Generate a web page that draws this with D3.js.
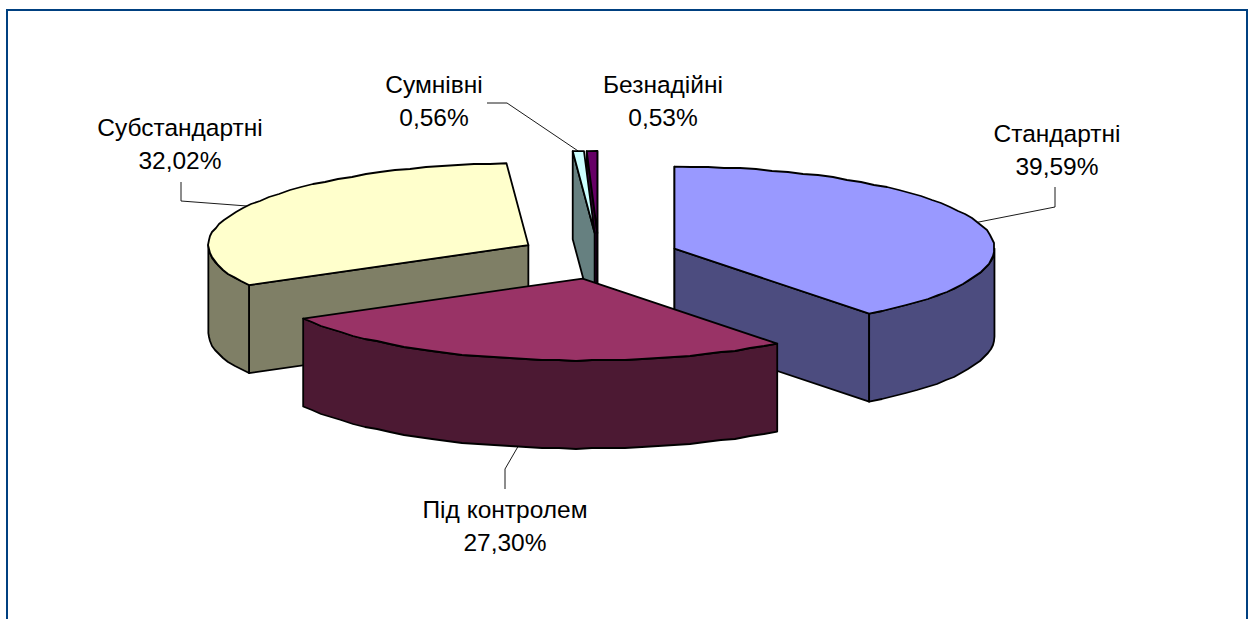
<!DOCTYPE html>
<html lang="uk">
<head>
<meta charset="utf-8">
<script src="https://cdnjs.cloudflare.com/ajax/libs/d3/7.8.5/d3.min.js"></script>
<style>
html,body{margin:0;padding:0;background:#fff;overflow:hidden}
svg{display:block}
text{font-family:"Liberation Sans",Arial,sans-serif;font-size:24.5px;fill:#000}
</style>
</head>
<body>
<svg id="chart" width="1248" height="619"></svg>
<script>
const categories = ["Стандартні", "Під контролем", "Субстандартні", "Сумнівні", "Безнадійні"];
const shares = [39.59, 27.30, 32.02, 0.56, 0.53];
const topColors = ["#9999FF", "#993366", "#FFFFCC", "#CCFFFF", "#660066"];
const sideColors = ["#4C4C7F", "#4C1933", "#7F7F66", "#668080", "#330033"];

// layout
const W = 1248, H = 619;
const cx = 598.7, cy = 256, rx = 320, ry = 82, depth = 88;
const explodeX = 80, explodeY = 23;
const paintOrder = [0, 2, 4, 3, 1];
const labelAt = [[1057, 142], [505, 518], [180, 136], [434, 93], [663, 93]];
const lineGap = 32.5;
const elbows = [
  [[1055, 207], [1055, 187]],
  [[505, 469], [505, 489]],
  [[181, 201], [181, 182]],
  [[507, 103], [487, 103]],
  []
];

const svg = d3.select("#chart");
svg.append("rect").attr("x", 7).attr("y", 10).attr("width", 1240).attr("height", H + 20)
  .attr("fill", "#fff").attr("stroke", "#004080").attr("stroke-width", 2);

const pie = d3.pie().sort(null).value(d => d)(shares);
const sx = d3.scaleLinear().domain([-1, 1]).range([-rx, rx]);
const sy = d3.scaleLinear().domain([-1, 1]).range([-ry, ry]);

const slices = pie.map((p, i) => {
  const mid = (p.startAngle + p.endAngle) / 2;
  return {
    i, a0: p.startAngle, a1: p.endAngle, mid,
    ax: cx + explodeX * Math.sin(mid),
    ay: cy - explodeY * Math.cos(mid)
  };
});

const rim = (s, a, drop = 0) => [s.ax + sx(Math.sin(a)), s.ay + sy(-Math.cos(a)) + drop];
function arcPts(s, a0, a1, drop = 0) {
  const step = Math.PI / 60;
  const n = Math.max(1, Math.ceil((a1 - a0) / step));
  return d3.range(n + 1).map(k => {
    const p = rim(s, a0 + (a1 - a0) * k / n, drop);
    return (k === 0 || k === n) ? p : [Math.round(p[0]), Math.round(p[1])];
  });
}
const line = d3.line();
const closed = pts => line(pts) + "Z";
const order = paintOrder.map(k => slices[k]);

const g = svg.selectAll("g.slice").data(order).join("g").attr("class", "slice");

g.each(function (s) {
  const el = d3.select(this);
  const side = sideColors[s.i];
  const wall = a => {
    const r = rim(s, a);
    return [[s.ax, s.ay], r, [r[0], r[1] + depth], [s.ax, s.ay + depth]];
  };
  const faces = [];
  // a radial cut shows when its outward side turns to the viewer
  if (Math.cos(s.a0 - Math.PI / 2) < 1e-9) faces.push(wall(s.a0));
  if (Math.cos(s.a1 + Math.PI / 2) < 1e-9) faces.push(wall(s.a1));
  const f0 = Math.max(s.a0, Math.PI / 2), f1 = Math.min(s.a1, 3 * Math.PI / 2);
  if (f1 > f0) faces.push(arcPts(s, f0, f1).concat(arcPts(s, f0, f1, depth).reverse()));
  faces.forEach(pts => {
    el.append("path").attr("d", closed(pts)).attr("fill", side)
      .attr("stroke", "#000").attr("stroke-width", 1.8).attr("stroke-linejoin", "round");
  });
  el.append("path").attr("d", closed([[s.ax, s.ay]].concat(arcPts(s, s.a0, s.a1))))
    .attr("fill", topColors[s.i])
    .attr("stroke", "#000").attr("stroke-width", 1.8).attr("stroke-linejoin", "round");
});

// leader lines run from the rim at each slice's middle
slices.forEach(s => {
  const e = elbows[s.i];
  if (!e.length) return;
  const front = Math.cos(s.mid) < -0.5;
  svg.append("path").attr("d", line([rim(s, s.mid, front ? depth : 0)].concat(e)))
    .attr("fill", "none").attr("stroke", "#000").attr("stroke-width", 0.9);
});

const fmt = v => v.toFixed(2).replace(".", ",") + "%";
const labels = svg.selectAll("text.lab").data(slices).join("text").attr("class", "lab")
  .attr("text-anchor", "middle");
labels.append("tspan").attr("x", s => labelAt[s.i][0]).attr("y", s => labelAt[s.i][1])
  .text(s => categories[s.i]);
labels.append("tspan").attr("x", s => labelAt[s.i][0]).attr("y", s => labelAt[s.i][1] + lineGap)
  .text(s => fmt(shares[s.i]));
</script>
</body>
</html>
